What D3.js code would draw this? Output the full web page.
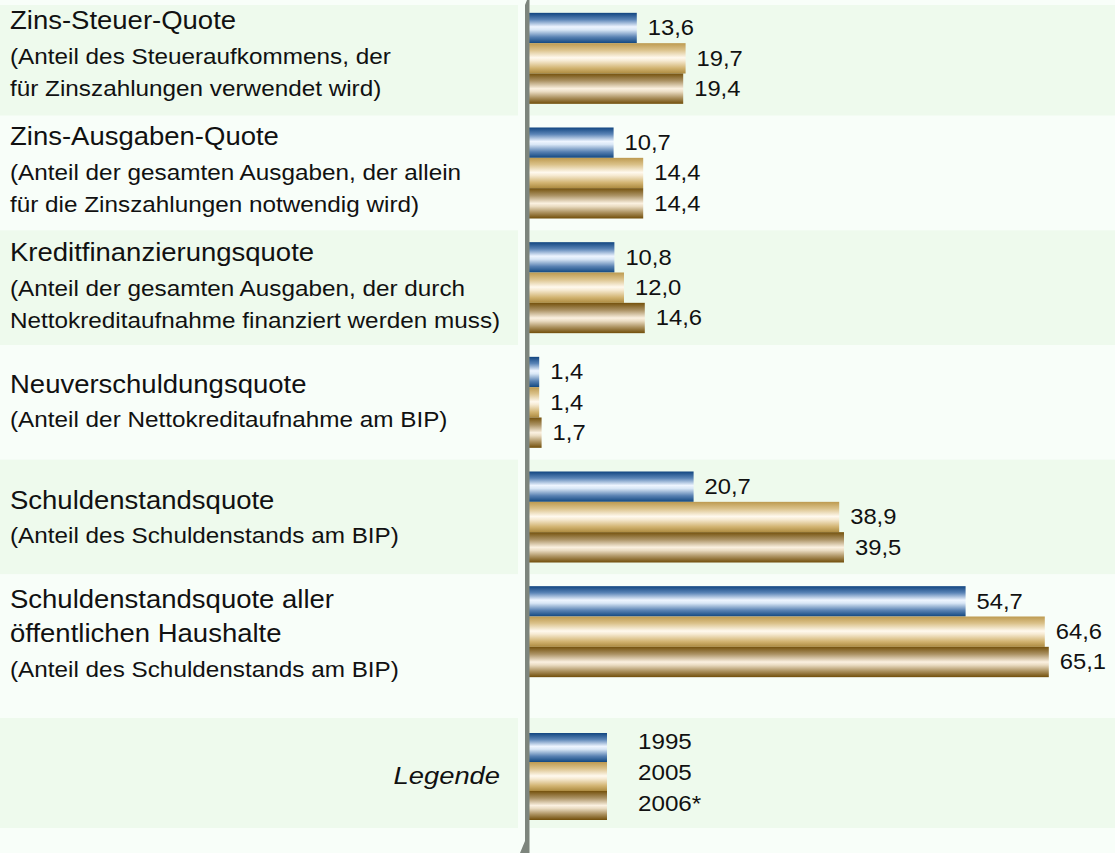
<!DOCTYPE html>
<html lang="de">
<head>
    <meta charset="utf-8">
    <title>Haushaltskennzahlen</title>
    <script src="https://d3js.org/d3.v7.min.js"></script>
    <style type="text/css">
        body { margin: 0; background: #f8fef9; }
        svg { display: block; font-family: "Liberation Sans", Arial, sans-serif; }
    </style>
</head>
<body>
<script type="text/javascript">
    // Data
    var categories = ["zsq", "zaq", "kfq", "nvq", "ssq", "ssqAll"];
    var titleLines = [
        ["Zins-Steuer-Quote"],
        ["Zins-Ausgaben-Quote"],
        ["Kreditfinanzierungsquote"],
        ["Neuverschuldungsquote"],
        ["Schuldenstandsquote"],
        ["Schuldenstandsquote aller", "öffentlichen Haushalte"]
    ];
    var noteLines = [
        ["(Anteil des Steueraufkommens, der", "für Zinszahlungen verwendet wird)"],
        ["(Anteil der gesamten Ausgaben, der allein", "für die Zinszahlungen notwendig wird)"],
        ["(Anteil der gesamten Ausgaben, der durch", "Nettokreditaufnahme finanziert werden muss)"],
        ["(Anteil der Nettokreditaufnahme am BIP)"],
        ["(Anteil des Schuldenstands am BIP)"],
        ["(Anteil des Schuldenstands am BIP)"]
    ];
    var years = ["1995", "2005", "2006*"];
    var values1995 = [13.6, 10.7, 10.8, 1.4, 20.7, 54.7];
    var values2005 = [19.7, 14.4, 12.0, 1.4, 38.9, 64.6];
    var values2006 = [19.4, 14.4, 14.6, 1.7, 39.5, 65.1];
    var legendTitle = "Legende";

    var series = [values1995, values2005, values2006];

    //Width and height
    var w = 1115;
    var h = 853;

    var svg = d3.select("body")
                .append("svg")
                .attr("width", w)
                .attr("height", h);

    // the original text is a bit wider than Liberation Sans, so stretch it sideways
    function placeText(sel, px, py, sx) {
        sel.attr("x", 0)
           .attr("y", 0)
           .attr("transform", function(d, i) {
                return "translate(" + px(d, i) + "," + py(d, i) + ") scale(" + sx + ",1)";
           });
        return sel;
    }

    // gradients for the "tube" look of the bars
    var gradStops = [
        [["0%", "#114580"], ["22%", "#5a84b6"], ["46%", "#eef5ff"], ["56%", "#d9e7f6"], ["80%", "#5881b2"], ["100%", "#114780"]],
        [["0%", "#bd9a50"], ["22%", "#dac189"], ["48%", "#fff9ee"], ["58%", "#f6ead2"], ["82%", "#d2b472"], ["100%", "#ad8b40"]],
        [["0%", "#74510c"], ["24%", "#ab9264"], ["50%", "#fbf1e1"], ["60%", "#eadcc2"], ["80%", "#ac9260"], ["100%", "#714e0a"]]
    ];
    var defs = svg.append("defs");
    gradStops.forEach(function(stops, i) {
        var g = defs.append("linearGradient")
            .attr("id", "grad" + i)
            .attr("x1", 0).attr("y1", 0)
            .attr("x2", 0).attr("y2", 1);
        g.selectAll("stop")
            .data(stops)
            .enter()
            .append("stop")
            .attr("offset", function(d) { return d[0]; })
            .attr("stop-color", function(d) { return d[1]; });
    });

    // scales
    var x = d3.scaleLinear()
        .domain([0, 70])
        .range([528, 1088]);

    var y = d3.scaleBand()
        .domain(categories)
        .range([1, 689])
        .paddingInner(0);

    // three bars inside each row
    var ySub = d3.scaleBand()
        .domain(years)
        .range([-45.5, 45.5]);

    // legend row sits below the data rows
    var legendCenter = 776.5;
    var legendSub = d3.scaleBand()
        .domain(years)
        .range([-43.5, 43.5]);

    // alternating background bands
    var bandGreen = "#eefaed";
    var bandLight = "#f8fef9";
    var bandEdges = categories.map(function(c, i) {
        var top = (i === 0) ? 5 : y(c);
        var bottom = (i === categories.length - 1) ? 718 : y(c) + y.bandwidth();
        return { top: top, bottom: bottom, fill: (i % 2 === 0) ? bandGreen : bandLight };
    });
    bandEdges.push({ top: 718, bottom: 828, fill: bandGreen });

    var bg = svg.append("g").attr("class", "bands");
    bg.selectAll("rect.left")
        .data(bandEdges)
        .enter()
        .append("rect")
        .attr("class", "left")
        .attr("x", 0)
        .attr("y", function(d) { return d.top; })
        .attr("width", 518)
        .attr("height", function(d) { return d.bottom - d.top; })
        .attr("fill", function(d) { return d.fill; });
    bg.selectAll("rect.right")
        .data(bandEdges)
        .enter()
        .append("rect")
        .attr("class", "right")
        .attr("x", 530)
        .attr("y", function(d) { return d.top; })
        .attr("width", w - 530)
        .attr("height", function(d) { return d.bottom - d.top; })
        .attr("fill", function(d) { return d.fill; });

    // row labels
    var labels = svg.append("g").attr("class", "labels");
    categories.forEach(function(c, i) {
        var lines = [];
        titleLines[i].forEach(function(t) { lines.push({ text: t, size: 25, sx: 1.1 }); });
        noteLines[i].forEach(function(t) { lines.push({ text: t, size: 21.5, sx: 1.13 }); });
        // baselines: ~34.5px after a title line, 32px between note lines
        var pos = [0];
        for (var k = 1; k < lines.length; k++) {
            pos.push(pos[k - 1] + (lines[k - 1].size > 22 ? 34.5 : 32));
        }
        var center = y(c) + y.bandwidth() / 2;
        var offset = center + 4 + 1.3 * i - pos[pos.length - 1] / 2;
        lines.forEach(function(l, k) {
            labels.append("text")
                .datum(l)
                .attr("x", 0)
                .attr("y", 0)
                .attr("transform", "translate(10," + (offset + pos[k]) + ") scale(" + l.sx + ",1)")
                .attr("font-size", l.size)
                .attr("fill", "#111")
                .text(l.text);
        });
    });

    // bars
    var bars = svg.append("g").attr("class", "bars");
    series.forEach(function(vals, s) {
        bars.selectAll(null)
            .data(vals)
            .enter()
            .append("rect")
            .attr("x", x(0))
            .attr("y", function(d, i) { return y(categories[i]) + y.bandwidth() / 2 + ySub(years[s]); })
            .attr("width", function(d) { return x(d) - x(0); })
            .attr("height", ySub.bandwidth())
            .attr("fill", "url(#grad" + s + ")");

        var vt = bars.selectAll(null)
            .data(vals)
            .enter()
            .append("text")
            .attr("dy", "0.36em")
            .attr("font-size", 22)
            .attr("fill", "#111")
            .text(function(d) { return d3.format(".1f")(d).replace(".", ","); });
        placeText(vt,
            function(d) { return x(d) + 11; },
            function(d, i) { return y(categories[i]) + y.bandwidth() / 2 + ySub(years[s]) + ySub.bandwidth() / 2 - 0.5; },
            1.08);
    });

    // legend
    var legend = svg.append("g").attr("class", "legend");
    legend.selectAll("rect")
        .data(years)
        .enter()
        .append("rect")
        .attr("x", x(0))
        .attr("y", function(d) { return legendCenter + legendSub(d); })
        .attr("width", 79)
        .attr("height", legendSub.bandwidth())
        .attr("fill", function(d, i) { return "url(#grad" + i + ")"; });
    var yt = legend.selectAll("text.year")
        .data(years)
        .enter()
        .append("text")
        .attr("class", "year")
        .attr("dy", "0.36em")
        .attr("font-size", 22)
        .attr("fill", "#111")
        .text(function(d) { return d; });
    placeText(yt,
        function() { return 638; },
        function(d, i) { return legendCenter - 4 + (i - 1) * 31; },
        1.1);
    var lt = legend.append("text")
        .datum(legendTitle)
        .attr("dy", "0.36em")
        .attr("text-anchor", "end")
        .attr("font-size", 24)
        .attr("font-style", "italic")
        .attr("fill", "#111")
        .text(legendTitle);
    placeText(lt, function() { return 500; }, function() { return legendCenter - 1.5; }, 1.14);

    // zero line with broken ends
    svg.append("path")
        .attr("d", "M527,0 L529.5,0 L529.5,853 L520,853 L525,841 L525,5 Z")
        .attr("fill", "#7d857d");

</script>
</body>
</html>
